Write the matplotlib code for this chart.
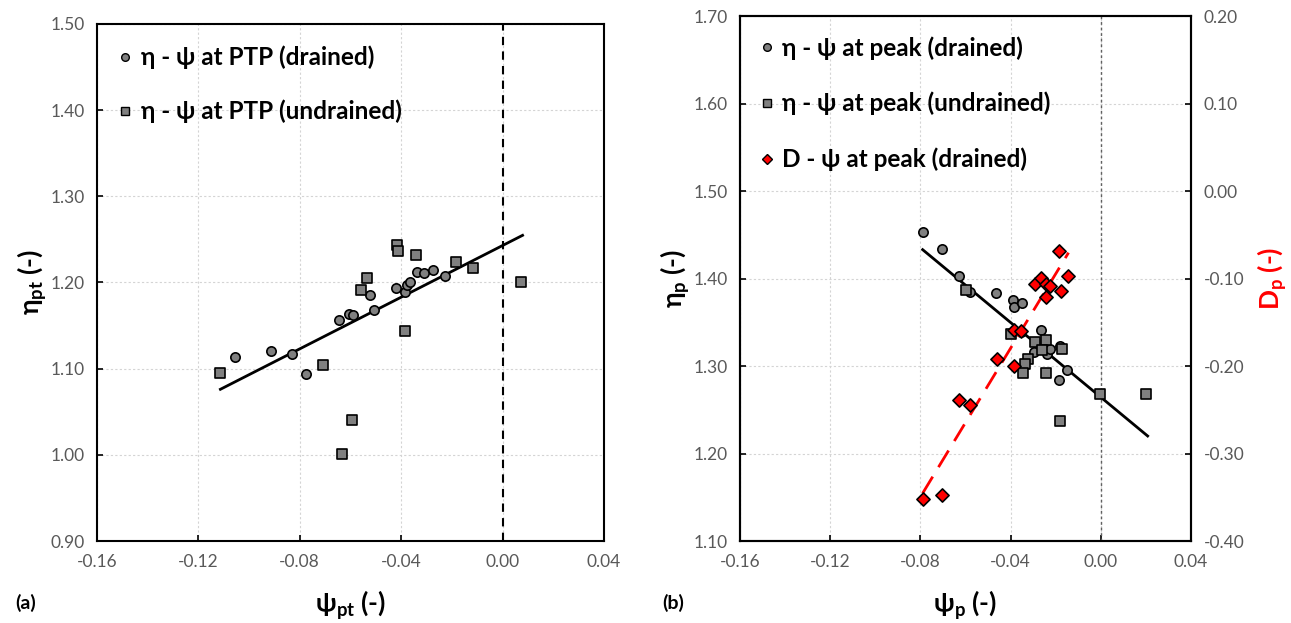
import matplotlib
matplotlib.use('Agg')
import matplotlib.pyplot as plt
from matplotlib.lines import Line2D
import numpy as np

plt.rcParams['font.family'] = ['Lato', 'DejaVu Sans']
plt.rcParams['mathtext.fontset'] = 'custom'
plt.rcParams['mathtext.rm'] = 'Lato'
plt.rcParams['mathtext.bf'] = 'Lato:bold'

# (a) state parameter vs stress ratio at phase transformation point
psi_pt_dr = [-0.1057, -0.0912, -0.0830, -0.0776, -0.0646, -0.0606, -0.0590, -0.0507,
             -0.0524, -0.0421, -0.0384, -0.0376, -0.0366, -0.0339, -0.0309, -0.0276, -0.0227]
eta_pt_dr = [1.114, 1.120, 1.117, 1.094, 1.157, 1.163, 1.162, 1.168,
             1.185, 1.194, 1.189, 1.197, 1.201, 1.212, 1.211, 1.215, 1.208]
psi_pt_un = [-0.1113, -0.0709, -0.0592, -0.0632, -0.0558, -0.0536, -0.0417, -0.0413,
             -0.0384, -0.0343, -0.0185, -0.0118, 0.0074]
eta_pt_un = [1.095, 1.104, 1.041, 1.001, 1.191, 1.205, 1.244, 1.236,
             1.144, 1.232, 1.224, 1.217, 1.200]
trend_a = [1.499, 1.2429]        # slope, intercept
trend_a_x = [-0.1113, 0.0079]

# (b) peak state
psi_p_dr = [-0.0790, -0.0705, -0.0627, -0.0582, -0.0464, -0.0388, -0.0385, -0.0351,
            -0.0352, -0.0264, -0.0296, -0.0237, -0.0225, -0.0181, -0.0148, -0.0184]
eta_p_dr = [1.453, 1.434, 1.403, 1.385, 1.383, 1.376, 1.368, 1.372,
            1.339, 1.341, 1.316, 1.314, 1.320, 1.323, 1.296, 1.284]
psi_p_un = [-0.0597, -0.0397, -0.0293, -0.0244, -0.0259, -0.0170, -0.0323, -0.0336,
            -0.0347, -0.0244, -0.0004, 0.0200, -0.0181]
eta_p_un = [1.387, 1.337, 1.328, 1.330, 1.318, 1.319, 1.308, 1.302,
            1.292, 1.292, 1.268, 1.268, 1.237]
psi_D = [-0.0790, -0.0704, -0.0627, -0.0581, -0.0462, -0.0387, -0.0385, -0.0352,
         -0.0293, -0.0264, -0.0241, -0.0225, -0.0243, -0.0178, -0.0184, -0.0147]
D_p = [-0.352, -0.347, -0.239, -0.245, -0.192, -0.200, -0.159, -0.160,
       -0.106, -0.099, -0.106, -0.108, -0.121, -0.114, -0.068, -0.097]
trend_b = [-2.134, 1.2644]
trend_b_x = [-0.079, 0.0208]
trend_D = [4.25, -0.0097]
trend_D_x = [-0.079, -0.0143]

xticks = [-0.16, -0.12, -0.08, -0.04, 0.00, 0.04]

grey = '#808080'
tick_col = '#595959'
mk = dict(edgecolors='black', linewidths=1.2, zorder=3)

fig = plt.figure(figsize=(12.91, 6.23), dpi=100)
ax1 = fig.add_axes([0.0751, 0.1316, 0.3927, 0.8299])
ax2 = fig.add_axes([0.5732, 0.1316, 0.3493, 0.8427])


def style(ax, yticks, fmt='%.2f'):
    ax.set_xlim(-0.16, 0.04)
    ax.set_xticks(xticks)
    ax.set_xticklabels(['%.2f' % t for t in xticks])
    ax.set_yticks(yticks)
    ax.set_yticklabels([fmt % t for t in yticks])
    ax.set_ylim(yticks[0], yticks[-1])
    ax.tick_params(direction='in', length=4, width=1.2, labelsize=12.5,
                   labelcolor=tick_col, pad=9)
    ax.grid(True, color='#d4d4d4', linestyle=(0, (2, 2)), linewidth=0.8)
    ax.set_axisbelow(True)
    for s in ax.spines.values():
        s.set_linewidth(1.5)


lab = dict(fontsize=19, fontweight='bold')
leg = dict(loc='upper left', frameon=False, prop={'size': 17.5, 'weight': 'bold'},
           handletextpad=0.15, handlelength=1.0)

# ---- panel (a)
style(ax1, [0.90, 1.00, 1.10, 1.20, 1.30, 1.40, 1.50])
ax1.axvline(0.0, color='black', linestyle=(0, (4, 3)), linewidth=1.5, zorder=2)
xa = np.array(trend_a_x)
ax1.plot(xa, trend_a[0] * xa + trend_a[1], color='black', linewidth=2, zorder=2)
ax1.scatter(psi_pt_dr, eta_pt_dr, s=45, marker='o', c=grey, **mk)
ax1.scatter(psi_pt_un, eta_pt_un, s=45, marker='s', c=grey, **mk)
ax1.set_xlabel(r'$\mathbf{\psi_{pt}}$ (-)', labelpad=14, **lab)
ax1.set_ylabel(r'$\mathbf{\eta_{pt}}$ (-)', labelpad=1, **lab)

h_a = [Line2D([], [], marker='o', ls='none', mfc=grey, mec='black', ms=5.5, mew=1),
       Line2D([], [], marker='s', ls='none', mfc=grey, mec='black', ms=5.5, mew=1)]
ax1.legend(h_a, ['η - ψ at PTP (drained)', 'η - ψ at PTP (undrained)'],
           bbox_to_anchor=(-0.012, 1.0), labelspacing=1.25, borderaxespad=0.5, **leg)

# ---- panel (b)
style(ax2, [1.10, 1.20, 1.30, 1.40, 1.50, 1.60, 1.70])
ax2.axvline(0.0, color='#606060', linestyle=(0, (2, 2)), linewidth=1.0, zorder=2)
xb = np.array(trend_b_x)
ax2.plot(xb, trend_b[0] * xb + trend_b[1], color='black', linewidth=2, zorder=2)
ax2.scatter(psi_p_dr, eta_p_dr, s=45, marker='o', c=grey, **mk)
ax2.scatter(psi_p_un, eta_p_un, s=45, marker='s', c=grey, **mk)
ax2.set_xlabel(r'$\mathbf{\psi_{p}}$ (-)', labelpad=14, **lab)
ax2.set_ylabel(r'$\mathbf{\eta_{p}}$ (-)', labelpad=1, **lab)

ax3 = ax2.twinx()
d_ticks = [-0.40, -0.30, -0.20, -0.10, 0.00, 0.10, 0.20]
ax3.set_ylim(-0.40, 0.20)
ax3.set_yticks(d_ticks)
ax3.set_yticklabels(['%.2f' % t for t in d_ticks])
ax3.tick_params(direction='in', length=4, width=1.2, labelsize=12.5,
                labelcolor=tick_col, pad=9)
for s in ax3.spines.values():
    s.set_linewidth(1.5)
xd = np.array(trend_D_x)
ax3.plot(xd, trend_D[0] * xd + trend_D[1], color='red', linewidth=2,
         linestyle=(0, (7, 4)), zorder=2)
ax3.scatter(psi_D, D_p, s=45, marker='D', c='red', **mk)
ax3.set_ylabel(r'$\mathbf{D_{p}}$ (-)', color='red', labelpad=8, **lab)

h_b = [Line2D([], [], marker='o', ls='none', mfc=grey, mec='black', ms=5.5, mew=1),
       Line2D([], [], marker='s', ls='none', mfc=grey, mec='black', ms=5.5, mew=1),
       Line2D([], [], marker='D', ls='none', mfc='red', mec='black', ms=5, mew=1)]
ax3.legend(h_b, ['η - ψ at peak (drained)', 'η - ψ at peak (undrained)',
                 'D - ψ at peak (drained)'],
           bbox_to_anchor=(-0.012, 1.0), labelspacing=1.33, borderaxespad=0.42, **leg)

fig.text(0.012, 0.022, '(a)', fontsize=14, fontweight='bold')
fig.text(0.513, 0.022, '(b)', fontsize=14, fontweight='bold')

fig.savefig('out.png', dpi=100)
